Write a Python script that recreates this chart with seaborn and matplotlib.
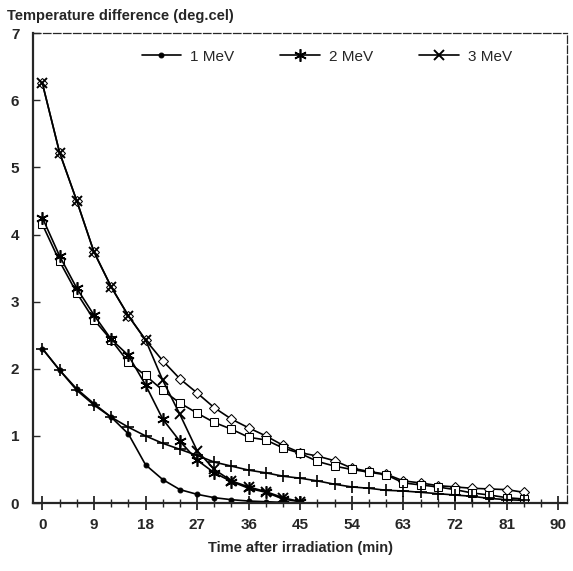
import numpy as np
import pandas as pd
import matplotlib
matplotlib.use("Agg")
import matplotlib.pyplot as plt
import seaborn as sns

# data (time in min, temperature difference in deg.cel)
time_long = [0, 3, 6, 9, 12, 15, 18, 21, 24, 27, 30, 33, 36, 39, 42, 45,
             48, 51, 54, 57, 60, 63, 66, 69, 72, 75, 78, 81, 84]
time_short = [0, 3, 6, 9, 12, 15, 18, 21, 24, 27, 30, 33, 36, 39, 42, 45]

mev1 = [2.30, 1.98, 1.70, 1.48, 1.28, 1.03, 0.57, 0.35, 0.20, 0.13, 0.08, 0.05,
        0.03, 0.02, 0.01, 0.00]
mev2 = [4.25, 3.68, 3.20, 2.80, 2.44, 2.20, 1.76, 1.25, 0.92, 0.64, 0.45, 0.32,
        0.22, 0.16, 0.06, 0.02]
mev3 = [6.25, 5.22, 4.50, 3.74, 3.22, 2.79, 2.43, 1.83, 1.32, 0.78, 0.50, 0.33,
        0.24, 0.17, 0.08, 0.02]

diamond = [6.25, 5.22, 4.50, 3.74, 3.22, 2.79, 2.43, 2.12, 1.85, 1.64, 1.42, 1.25,
           1.12, 1.00, 0.86, 0.75, 0.70, 0.63, 0.52, 0.47, 0.43, 0.33, 0.30, 0.26,
           0.24, 0.22, 0.21, 0.20, 0.16]
square = [4.15, 3.60, 3.13, 2.73, 2.43, 2.10, 1.90, 1.68, 1.49, 1.34, 1.20, 1.10,
          0.98, 0.94, 0.82, 0.74, 0.62, 0.55, 0.50, 0.46, 0.42, 0.30, 0.27, 0.24,
          0.20, 0.15, 0.12, 0.08, 0.06]
plus = [2.30, 1.98, 1.68, 1.46, 1.28, 1.13, 1.00, 0.89, 0.80, 0.71, 0.61, 0.55,
        0.49, 0.45, 0.40, 0.37, 0.33, 0.28, 0.24, 0.22, 0.19, 0.18, 0.16, 0.14,
        0.12, 0.10, 0.07, 0.05, 0.04]

x_major = [0, 9, 18, 27, 36, 45, 54, 63, 72, 81, 90]
y_major = [0, 1, 2, 3, 4, 5, 6, 7]

sns.set_style("ticks")
plt.rcParams["font.family"] = ["Liberation Sans", "DejaVu Sans"]

fig = plt.figure(figsize=(5.73, 5.71), dpi=100)
ax = fig.add_axes([0.058, 0.119, 0.932, 0.823])

# unlabeled series
extra = [
    (time_long, diamond, dict(marker="D", markersize=5, markerfacecolor="white")),
    (time_long, square, dict(marker="s", markersize=6, markerfacecolor="white")),
    (time_long, plus, dict(marker="+", markersize=8, markeredgewidth=1.2)),
]
for xs, ys, kw in extra:
    sns.lineplot(x=xs, y=ys, ax=ax, color="black", linewidth=1.2,
                 markeredgecolor="black", **kw)

# legend series
named = [
    ("1 MeV", time_short, mev1, dict(marker="o", markersize=3.5)),
    ("2 MeV", time_short, mev2, dict(marker=(6, 2, 0), markersize=9, markeredgewidth=1.2)),
    ("3 MeV", time_short, mev3, dict(marker="x", markersize=7, markeredgewidth=1.4)),
]
for label, xs, ys, kw in named:
    sns.lineplot(x=xs, y=ys, ax=ax, color="black", linewidth=1.2,
                 markeredgecolor="black", label=label, **kw)

ax.set_xlim(-1.6, 91.6)
ax.set_ylim(0, 7)
ax.set_xticks(x_major)
ax.set_xticks(np.arange(0, 91, 3), minor=True)
ax.set_yticks(y_major)
ax.tick_params(axis="x", which="major", direction="inout", length=10, width=1.3,
               labelsize=11, pad=6)
ax.tick_params(axis="x", which="minor", direction="inout", length=6, width=1.0)
ax.tick_params(axis="y", which="major", direction="in", length=5, width=1.0,
               labelsize=11, pad=10)
for lab in ax.get_xticklabels() + ax.get_yticklabels():
    lab.set_fontweight("bold")

ax.spines["left"].set_linewidth(1.6)
ax.spines["bottom"].set_linewidth(1.6)
for side in ["top", "right"]:
    ax.spines[side].set_visible(True)
    ax.spines[side].set_linewidth(0.9)
    ax.spines[side].set_linestyle((0, (6, 2)))

ax.set_xlabel("Time after irradiation (min)", fontsize=10.5, fontweight="bold", labelpad=6)
ax.set_ylabel("")
fig.text(0.012, 0.972, "Temperature difference (deg.cel)", fontsize=10.5,
         fontweight="bold", ha="left", va="center")

ax.legend(loc="center", bbox_to_anchor=(0.55, 0.95), ncol=3, frameon=False,
          fontsize=11, handlelength=2.6, columnspacing=3.0, handletextpad=0.6)

plt.savefig("out.png", dpi=100)
